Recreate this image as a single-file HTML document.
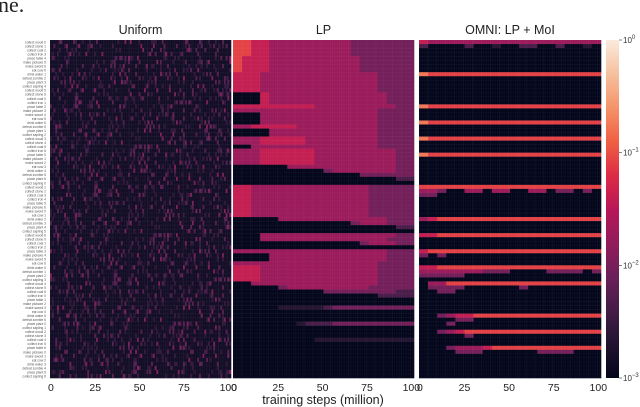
<!DOCTYPE html>
<html><head><meta charset="utf-8"><style>
html,body{margin:0;padding:0;background:#fff;width:640px;height:407px;overflow:hidden;}
svg{display:block;font-family:"Liberation Sans",sans-serif;}
</style></head><body>
<svg id="c" width="640" height="407" viewBox="0 0 640 407">
<defs><linearGradient id="cb" x1="0" y1="1" x2="0" y2="0">
<stop offset="0" stop-color="#03051a"/><stop offset="0.1" stop-color="#221331"/><stop offset="0.2" stop-color="#451c47"/>
<stop offset="0.3" stop-color="#6b1f59"/><stop offset="0.4" stop-color="#921c5b"/><stop offset="0.5" stop-color="#b91657"/>
<stop offset="0.6" stop-color="#dd2c45"/><stop offset="0.7" stop-color="#f06043"/><stop offset="0.8" stop-color="#f5936a"/>
<stop offset="0.9" stop-color="#f6c19f"/><stop offset="1" stop-color="#faebdd"/></linearGradient></defs>
<text x="-2" y="12" font-family="Liberation Serif,serif" font-size="22" fill="#222">ne.</text>
</svg>
<script>
const ticks=[0,25,50,75,100];
const panelTitles=["Uniform","LP","OMNI: LP + MoI"];
const cbTicks=[0,-1,-2,-3];
const uniformPattern="00100002000100000300010000020001000000201000100003000020010000000200100";
const lpRows=[
"66554444444443333333","66554444444443333333","66554444444443333333","66554444444443333333",
"65554444444444333333","65554444444444333333","65554444444444333333","65554444444444333333",
"55544444444444443333","55544444444444443333","55544444444444443333","55544444444444443333","55544444444444443333",
"00054444444444444333","00054444444444444333","00054444444444444333",
"55555555544444444433","44444444444444443333",
"00044444444444443333","00044444444444443333","00044444444444443333",
"44555554444444443333","00004444444444443333","00004444444444443333",
"44455555444444443333","44455555444444443333","00444444444444443333",
"44455555544444444433","44455555544444444433","44455555544444444433","44455555544444444433",
"00000044444444444433","00000000003444444433","00000000000000333333","00000000000000000022","00000000000000000000",
"55444444444444433333","55444444444444433333","55444444444444433333","55444444444444433333",
"55444444444444433333","55444444444444433333","55444444444444433333","55444444444444433333",
"00000444444444444333","00000000000003444333","00000000000000000022","00000000000000000000",
"00044444444444444433","00044444444444444333","00000000000000344433","00000000000000000000",
"44444444444444444333","00004444444444444333","00004444444444444333","44444444444444443333",
"55544444444444443333","55544444444444443333","55544444444444443333","55544444444444443333",
"00444444444444443333","00000344444444433333","00000000003333333322","00000000000000002222",
"00000000000000000000","00000000000000000000","00000111112333333333","00000000000000000000",
"00000000000000000000","00000000000000000000","00000001222333333333","00000000000000000000",
"00000000000000000000","00000000000000000000","00000000011111111111","00000000000000000000",
"00000000000000000000","00000000000000000000","00000000000000000000","00000000000000000000",
"00000000000000000000","00000000000000000000","00000000000000000000","00000000000000000000"];
const omniRows=[
"54444444444444444444","20000200100220020010","00000000000000000000","00000000000000000000",
"00000000000000000000","00000000000000000000","00000000000000000000","00000000000000000000",
"76666666666666666666","00000000000000000000","00000000000000000000","00000000000000000000",
"00000000000000000000","00000000000000000000","00000000000000000000","00000000000000000000",
"76666666666666666666","00000000000000000000","00000000000000000000","00000000000000000000",
"76666666666666666666","00000000000000000000","00000000000000000000","00000000000000000000",
"76666666666666666666","00000000000000000000","00000000000000000000","00000000000000000000",
"76666666666666666666","00000000000000000000","00000000000000000000","00000000000000000000",
"00000000000000000000","00000000000000000000","00000000000000000000","00000000000000000000",
"66666666666666666666","44300440440044033030","33000000000000000000","00000000000000000000",
"00000000000000000000","00000000000000000000","00000000000000000000","00000000000000000000",
"45666666666666666666","00000000000000000000","00000000000000000000","00000000000000000000",
"55666666666666666666","00000000000000000000","00000000000000000000","00000000000000000000",
"56666666666666666666","30300000000000000000","00000000000000000000","00000000000000000000",
"55666666666666666666","44444443330000333303","33333000000000000000","00000000000000000000",
"04466666666666666666","03333000000300000000","00330000000000000000","00000000000000000000",
"00000000000000000000","00000000000000000000","00000000000000000000","00000000000000000000",
"00345566666666666666","00003300000000000000","00030000000000000000","00000000000000000000",
"00345666666666666666","00000300000000000000","00000000000000000000","00000000000000000000",
"00034445666666666666","00003330000003333000","00000000000000000000","00000000000000000000",
"00000000000000000000","00000000000000000000","00000000000000000000","00000000000000000000"];
const taskBases=["collect wood","collect stone","collect coal","collect iron","place table","make pickaxe","make sword","eat cow","drink water","defeat zombie","place plant","collect sapling"];

const svg=document.getElementById('c');const NS="http://www.w3.org/2000/svg";
const stops=[[0,[3,5,26]],[.1,[34,19,49]],[.2,[69,28,71]],[.3,[107,31,89]],[.4,[146,28,91]],[.5,[185,22,87]],[.6,[221,44,69]],[.7,[240,96,67]],[.8,[245,147,106]],[.9,[246,193,159]],[1,[250,235,221]]];
function cmap(logv){let t=Math.max(0,Math.min(1,(logv+3)/3));for(let i=1;i<stops.length;i++){if(t<=stops[i][0]){const a=stops[i-1],b=stops[i],f=(t-a[0])/(b[0]-a[0]);const c=a[1].map((v,k)=>Math.round(v+(b[1][k]-v)*f));return `rgb(${c})`;}}return "rgb(250,235,221)";}
function lvl(ch){return -3+parseInt(ch)*0.32;}
const panels=[[50,231],[233,414],[419,601]];const Y0=40,Y1=378,NR=84,RH=(Y1-Y0)/NR;
function xS(p,v){const[a,b]=panels[p];return a+(b-a)*v/102;}
function yS(r){return Y0+r*RH;}
function el(tag,attrs){const e=document.createElementNS(NS,tag);for(const k in attrs)e.setAttribute(k,attrs[k]);svg.appendChild(e);return e;}
for(let r=0;r<NR;r++){for(let c=0;c<102;c++){const ch=uniformPattern[(c*13+r*29+((c*r)%11)*5)%uniformPattern.length];
const e=el('rect',{x:xS(0,c),y:yS(r),width:(panels[0][1]-panels[0][0])/102+0.3,height:RH+0.3,fill:cmap(-2.85+parseInt(ch)*0.3)});

}}
[[1,lpRows],[2,omniRows]].forEach(([p,rows])=>{rows.forEach((row,r)=>{for(let c=0;c<row.length;c++){const bw=102/row.length;
const e=el('rect',{x:xS(p,c*bw),y:yS(r),width:(panels[p][1]-panels[p][0])/row.length+0.3,height:RH+0.3,fill:cmap(lvl(row[c]))});

}});});
panels.forEach(([a,b],p)=>{for(let r=0;r<=NR;r++){el('line',{x1:a,x2:b,y1:yS(r),y2:yS(r),stroke:'rgba(200,200,220,0.07)','stroke-width':0.5});}
for(let c=0;c<=102;c+=1){el('line',{x1:xS(p,c),x2:xS(p,c),y1:Y0,y2:Y1,stroke:c%5==0?'rgba(200,200,220,0.10)':'rgba(200,200,220,0.05)','stroke-width':0.6});}
const t=el('text',{x:(a+b)/2,y:34,'text-anchor':'middle','font-size':12.5,fill:'#222'});t.textContent=panelTitles[p];


ticks.forEach(v=>{const tx=el('text',{x:xS(p,v+0.5),y:391,'text-anchor':'middle','font-size':10.5,fill:'#222'});tx.textContent=v;

});});
for(let r=0;r<NR;r++){const t=el('text',{x:46,y:yS(r)+RH*0.85,'text-anchor':'end','font-size':3.3,fill:'#555'});t.textContent=taskBases[r%taskBases.length]+' '+(r%7);

}
const xl=el('text',{x:323,y:404,'text-anchor':'middle','font-size':12.5,fill:'#222'});xl.textContent="training steps (million)";


const cb=el('rect',{x:606,y:Y0,width:13,height:Y1-Y0,fill:'url(#cb)'});


cbTicks.forEach(v=>{const y=Y0+(Y1-Y0)*(-v)/3;el('line',{x1:619,x2:622,y1:y,y2:y,stroke:'#333','stroke-width':0.6});
const t=el('text',{x:623,y:y+3,'font-size':8,fill:'#333'});t.innerHTML='10<tspan dy="-4" font-size="6">'+(v==0?'0':'−'+(-v))+'</tspan>';

});
</script>
</body></html>
